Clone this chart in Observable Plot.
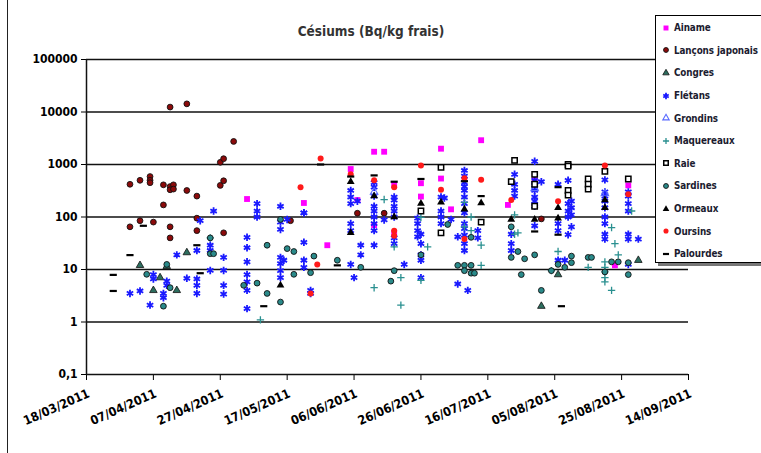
<!DOCTYPE html>
<html><head><meta charset="utf-8">
<script src="https://cdn.jsdelivr.net/npm/d3@7"></script>
<script src="https://cdn.jsdelivr.net/npm/@observablehq/plot@0.6"></script>
<style>
body{margin:0;background:#fff;}
#wrap{position:relative;width:761px;height:453px;overflow:hidden;font-family:"DejaVu Sans Condensed","DejaVu Sans",sans-serif;}
#title{position:absolute;left:0;width:742px;top:23px;text-align:center;font-weight:bold;font-size:13.5px;color:#333;}
#border{position:absolute;left:7px;top:0;width:0;height:453px;border-left:1.5px solid #222;}
#legend{position:absolute;left:655px;top:15px;width:120px;height:246px;border:1px solid #000;background:#fff;box-shadow:3px 3px 0 #777;}
.row{position:absolute;left:0;height:16px;display:flex;align-items:center;font-weight:bold;font-size:9.8px;letter-spacing:-0.1px;color:#1c1c30;white-space:nowrap;}
.row svg{margin-left:5px;margin-right:3px;}
#chart{position:absolute;left:0;top:0;}
</style></head>
<body>
<div id="wrap">
  <div id="chart"></div>
  <div id="border"></div>
  <div id="title">Césiums (Bq/kg frais)</div>
  <div id="legend"></div>
</div>
<script>
// ---- data: [date, Bq/kg] ----
const ainame = [["2011-05-05",220],["2011-05-22",185],["2011-05-29",29],["2011-06-05",820],["2011-06-07",210],["2011-06-12",1750],["2011-06-12",70],["2011-06-15",1750],["2011-06-18",410],["2011-06-18",50],["2011-06-26",440],["2011-06-26",245],["2011-07-02",2000],["2011-07-02",540],["2011-07-05",140],["2011-07-14",2900],["2011-07-22",170],["2011-07-30",500],["2011-08-23",12],["2011-08-27",400]];
const lancons = [["2011-03-31",420],["2011-03-31",65],["2011-04-03",500],["2011-04-03",85],["2011-04-06",590],["2011-04-06",500],["2011-04-06",450],["2011-04-07",80],["2011-04-10",410],["2011-04-10",170],["2011-04-12",12400],["2011-04-12",380],["2011-04-12",330],["2011-04-12",65],["2011-04-12",40],["2011-04-13",410],["2011-04-13",340],["2011-04-17",14300],["2011-04-17",320],["2011-04-20",250],["2011-04-20",95],["2011-04-20",55],["2011-04-27",1100],["2011-04-27",400],["2011-04-28",1290],["2011-04-28",490],["2011-04-28",50],["2011-05-01",2750],["2011-05-18",85],["2011-06-07",118],["2011-06-15",118],["2011-08-01",92]];
const congres = [["2011-04-03",12],["2011-04-07",4],["2011-04-09",7],["2011-04-11",11.5],["2011-04-14",4],["2011-04-17",21],["2011-08-01",2],["2011-08-06",8],["2011-08-30",15]];
const fletans = [["2011-03-31",3.5],["2011-04-03",3.9],["2011-04-06",2.1],["2011-04-07",8],["2011-04-07",6.6],["2011-04-10",3.5],["2011-04-10",2.9],["2011-04-11",6],["2011-04-11",5],["2011-04-14",19],["2011-04-17",6.8],["2011-04-20",23],["2011-04-20",6.6],["2011-04-20",5],["2011-04-20",3.5],["2011-04-21",85],["2011-04-24",29],["2011-04-24",23],["2011-04-24",9.6],["2011-04-25",130],["2011-04-28",17],["2011-04-28",9.6],["2011-04-28",5],["2011-04-28",3.4],
["2011-05-05",41],["2011-05-05",26],["2011-05-05",14],["2011-05-05",8],["2011-05-05",5.8],["2011-05-05",4],["2011-05-05",1.8],["2011-05-08",180],["2011-05-08",130],["2011-05-08",100],["2011-05-15",160],["2011-05-15",80],["2011-05-15",58],["2011-05-15",17],["2011-05-15",13],["2011-05-15",9.5],["2011-05-15",7],["2011-05-16",15],["2011-05-17",90],["2011-05-22",120],["2011-05-22",120],["2011-05-22",33],["2011-05-22",15],["2011-05-22",11],["2011-05-24",4],["2011-05-24",3.5],
["2011-06-05",320],["2011-06-05",240],["2011-06-05",180],["2011-06-05",75],["2011-06-05",55],["2011-06-05",12.5],["2011-06-06",7],["2011-06-07",200],["2011-06-08",29],["2011-06-08",19],["2011-06-12",450],["2011-06-12",370],["2011-06-12",250],["2011-06-12",160],["2011-06-12",130],["2011-06-12",100],["2011-06-12",75],["2011-06-12",55],["2011-06-12",29],["2011-06-15",88],["2011-06-18",240],["2011-06-18",210],["2011-06-18",160],["2011-06-18",130],["2011-06-18",100],["2011-06-18",40],["2011-06-18",31],["2011-06-21",12.5],["2011-06-25",95],["2011-06-25",75],["2011-06-25",55],["2011-06-25",42],["2011-06-26",47],["2011-06-26",31],["2011-06-26",19],["2011-06-26",15],["2011-06-26",7],
["2011-07-02",240],["2011-07-02",130],["2011-07-02",100],["2011-07-02",75],["2011-07-03",230],["2011-07-05",90],["2011-07-07",42],["2011-07-07",5.3],["2011-07-09",770],["2011-07-09",600],["2011-07-09",450],["2011-07-09",380],["2011-07-09",320],["2011-07-09",240],["2011-07-09",180],["2011-07-09",120],["2011-07-09",75],["2011-07-09",60],["2011-07-09",45],["2011-07-09",31],["2011-07-09",23],["2011-07-10",4],["2011-07-13",55],["2011-07-13",40],["2011-07-23",47],["2011-07-23",31],["2011-07-23",23],["2011-07-24",650],["2011-07-24",420],["2011-07-24",320],["2011-07-24",250],["2011-07-30",1150],["2011-07-30",500],["2011-07-30",400],["2011-07-30",320],["2011-07-30",240],["2011-07-30",200],["2011-07-30",160],["2011-07-30",68],
["2011-08-01",470],["2011-08-06",420],["2011-08-06",75],["2011-08-06",55],["2011-08-06",15],["2011-08-08",15],["2011-08-09",500],["2011-08-09",180],["2011-08-09",130],["2011-08-09",100],["2011-08-09",46],["2011-08-10",200],["2011-08-10",150],["2011-08-10",110],["2011-08-10",65],["2011-08-20",510],["2011-08-20",300],["2011-08-20",250],["2011-08-20",200],["2011-08-20",150],["2011-08-20",100],["2011-08-20",75],["2011-08-20",47],["2011-08-20",38],["2011-08-27",300],["2011-08-27",250],["2011-08-27",180],["2011-08-27",130],["2011-08-27",47],["2011-08-27",38],["2011-08-27",12.5],["2011-08-30",38]];
const grondins = [["2011-06-12",300],["2011-07-30",350],["2011-08-20",280]];
const maquereaux = [["2011-04-24",40],["2011-05-09",1.1],["2011-06-12",4.5],["2011-06-15",215],["2011-06-18",27],["2011-06-20",7],["2011-06-20",2.1],["2011-06-26",98],["2011-06-26",6.2],["2011-06-28",27],["2011-07-09",190],["2011-07-09",65],["2011-07-11",100],["2011-07-11",55],["2011-07-14",29],["2011-07-14",12],["2011-07-24",110],["2011-07-24",47],["2011-07-25",50],["2011-08-04",9.5],["2011-08-06",22],["2011-08-15",11],["2011-08-20",14],["2011-08-20",11],["2011-08-20",9],["2011-08-20",7],["2011-08-20",5.8],["2011-08-22",63],["2011-08-22",4],["2011-08-23",31],["2011-08-24",19],["2011-08-28",130]];
const raie = [["2011-06-26",130],["2011-07-02",880],["2011-07-02",50],["2011-07-14",80],["2011-07-23",470],["2011-07-24",1200],["2011-07-30",650],["2011-07-30",420],["2011-07-30",160],["2011-08-09",1000],["2011-08-09",930],["2011-08-09",320],["2011-08-09",260],["2011-08-15",530],["2011-08-15",420],["2011-08-15",340],["2011-08-20",740],["2011-08-27",530]];
const sardines = [["2011-04-05",8.1],["2011-04-10",2],["2011-04-11",12.5],["2011-04-12",4.5],["2011-04-24",40],["2011-04-24",20],["2011-04-25",20],["2011-05-04",5],["2011-05-08",5.5],["2011-05-11",29],["2011-05-11",3.5],["2011-05-15",90],["2011-05-15",2.4],["2011-05-17",25],["2011-05-19",22],["2011-05-19",8.1],["2011-05-24",8.7],["2011-05-25",18],["2011-06-01",15],["2011-06-08",11],["2011-06-17",6],["2011-06-18",9.5],["2011-06-26",19],["2011-07-04",72],["2011-07-07",12],["2011-07-09",12],["2011-07-09",9.5],["2011-07-11",12],["2011-07-11",8.5],["2011-07-11",41],["2011-07-12",8.5],["2011-07-23",65],["2011-07-23",17],["2011-07-25",22],["2011-07-26",8],["2011-07-27",16],["2011-07-30",19],["2011-08-01",4],["2011-08-04",9.5],["2011-08-06",12.5],["2011-08-08",11],["2011-08-10",18],["2011-08-10",13.5],["2011-08-15",17],["2011-08-16",17],["2011-08-20",9],["2011-08-22",14],["2011-08-24",14],["2011-08-27",13.5],["2011-08-27",8]];
const ormeaux = [["2011-05-15",5],["2011-06-05",470],["2011-06-05",50],["2011-06-12",250],["2011-06-18",100],["2011-06-26",180],["2011-07-02",190],["2011-07-09",140],["2011-07-14",185],["2011-07-23",90],["2011-07-30",90],["2011-08-06",150],["2011-08-06",95],["2011-08-20",210],["2011-08-20",150]];
const oursins = [["2011-05-21",370],["2011-05-24",3.5],["2011-05-26",12.5],["2011-05-27",1300],["2011-06-05",650],["2011-06-12",500],["2011-06-18",370],["2011-06-18",55],["2011-06-18",44],["2011-06-26",960],["2011-07-02",330],["2011-07-09",550],["2011-07-09",38],["2011-07-14",510],["2011-07-23",210],["2011-08-06",200],["2011-08-20",960],["2011-08-27",270]];
const palourdes = [["2011-03-26",7.9],["2011-03-26",3.9],["2011-03-31",18.8],["2011-04-04",68],["2011-04-20",29],["2011-04-21",8.5],["2011-05-10",2],["2011-05-27",1000],["2011-06-01",12],["2011-06-05",590],["2011-06-12",620],["2011-06-18",470],["2011-06-26",530],["2011-07-09",480],["2011-07-14",250],["2011-07-30",53],["2011-08-06",370],["2011-08-06",46],["2011-08-07",2]];

const xTickLabels = ["18/03/2011","07/04/2011","27/04/2011","17/05/2011","06/06/2011","26/06/2011","16/07/2011","05/08/2011","25/08/2011","14/09/2011"];
const yTicks = [0.1,1,10,100,1000,10000,100000];
const yTickLabels = ["0,1","1","10","100","1000","10000","100000"];

// ---- styles ----
const dash = {draw(ctx, size){ const w = Math.sqrt(size/Math.PI)*1.05; ctx.moveTo(-w,0); ctx.lineTo(w,0); }};
const series = [
 {name:"Ainame", data:ainame, symbol:"square", fill:"#ff00ff", stroke:"none", sw:0, r:3.3},
 {name:"Lançons japonais", data:lancons, symbol:"circle", fill:"#8b0a0a", stroke:"#111", sw:0.9, r:2.9},
 {name:"Congres", data:congres, symbol:"triangle", fill:"#2d6e5f", stroke:"#111", sw:0.8, r:2.8},
 {name:"Flétans", data:fletans, symbol:"asterisk", fill:"none", stroke:"#1a1aff", sw:1.8, r:3.5},
 {name:"Grondins", data:grondins, symbol:"triangle", fill:"none", stroke:"#5a6bff", sw:1.1, r:2.8},
 {name:"Maquereaux", data:maquereaux, symbol:"plus", fill:"none", stroke:"#2a9090", sw:1.3, r:2.5},
 {name:"Raie", data:raie, symbol:"square", fill:"#ffffff", stroke:"#000", sw:1.5, r:3},
 {name:"Sardines", data:sardines, symbol:"circle", fill:"#2a8a8a", stroke:"#111", sw:0.9, r:2.9},
 {name:"Ormeaux", data:ormeaux, symbol:"triangle", fill:"#000", stroke:"none", sw:0, r:2.9},
 {name:"Oursins", data:oursins, symbol:"circle", fill:"#ff1a1a", stroke:"none", sw:0, r:3},
 {name:"Palourdes", data:palourdes, symbol:dash, fill:"none", stroke:"#000", sw:2.2, r:3.4}
];

const parseTick = d3.utcParse("%d/%m/%Y");
const xTicks = xTickLabels.map(parseTick);
const xDomain = [xTicks[0], xTicks[xTicks.length-1]];

const dotMarks = series.map(s => Plot.dot(
  s.data.map(([d,v]) => ({date: new Date(d), value: v})),
  {x:"date", y:"value", symbol: () => s.symbol, fill: s.fill, stroke: s.stroke, strokeWidth: s.sw, r: s.r}
));

const chart = Plot.plot({
  width:761, height:453,
  marginLeft:86, marginRight:73, marginTop:59, marginBottom:79,
  style:{fontFamily:'"DejaVu Sans Condensed","DejaVu Sans",sans-serif', fontSize:"12px", fontWeight:"bold", color:"#000", background:"transparent", overflow:"visible"},
  symbol:{type:"identity"},
  x:{type:"utc", domain:xDomain, ticks:xTicks, tickFormat:()=>"", tickSize:6, label:null},
  y:{type:"log", domain:[0.1,100000], ticks:yTicks, tickFormat:d=>yTickLabels[yTicks.indexOf(d)], tickSize:5, tickPadding:4, label:null},
  marks:[
    Plot.ruleY(yTicks, {stroke:"#111", strokeWidth:1.5}),
    Plot.ruleX([xDomain[0]], {stroke:"#111", strokeWidth:1.5}),
    ...dotMarks,
    Plot.text(xTicks, {x:d=>d, frameAnchor:"bottom", text:(d,i)=>xTickLabels[i], dy:22, dx:4, rotate:-24, textAnchor:"end", fontSize:12.5, fontWeight:"bold", fill:"#000"})
  ]
});
document.getElementById("chart").appendChild(chart);

// ---- legend ----
const leg = document.getElementById("legend");
series.forEach((s,i) => {
  const row = document.createElement("div");
  row.className = "row";
  row.style.top = (3.7 + 22.6*i) + "px";
  const ns = "http://www.w3.org/2000/svg";
  const svg = document.createElementNS(ns,"svg");
  svg.setAttribute("width",10); svg.setAttribute("height",10);
  svg.setAttribute("viewBox","-5 -5 10 10");
  const type = typeof s.symbol === "string" ? ({square:d3.symbolSquare,circle:d3.symbolCircle,triangle:d3.symbolTriangle,asterisk:d3.symbolAsterisk,plus:d3.symbolPlus})[s.symbol] : s.symbol;
  const p = document.createElementNS(ns,"path");
  const rr = s.r*0.85;
  p.setAttribute("d", d3.symbol(type, Math.PI*rr*rr)());
  p.setAttribute("fill", s.fill); p.setAttribute("stroke", s.stroke); p.setAttribute("stroke-width", s.sw);
  svg.appendChild(p);
  row.appendChild(svg);
  const t = document.createElement("span"); t.textContent = s.name;
  row.appendChild(t);
  leg.appendChild(row);
});
</script>
</body></html>
